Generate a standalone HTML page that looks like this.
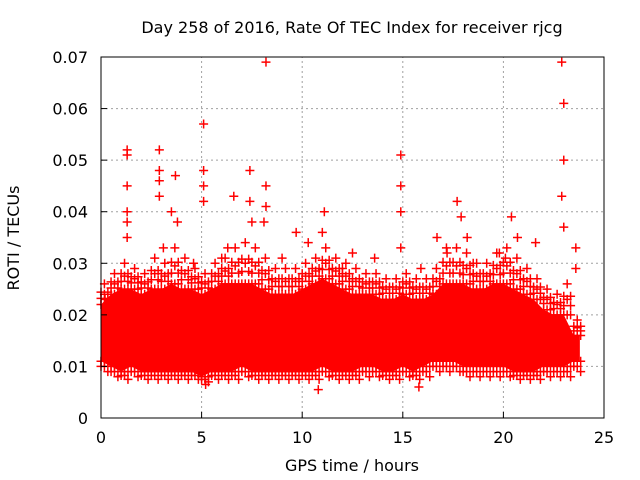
<!DOCTYPE html>
<html><head><meta charset="utf-8"><style>
body{margin:0;background:#fff}
svg{display:block;font-family:"DejaVu Sans","Liberation Sans",sans-serif}
</style></head><body>
<svg id="chart" width="640" height="480" viewBox="0 0 640 480" xmlns="http://www.w3.org/2000/svg">
<rect width="640" height="480" fill="#fff"/>
<text x="352" y="33" font-size="16" text-anchor="middle" fill="#000">Day 258 of 2016, Rate Of TEC Index for receiver rjcg</text>
<g id="grid"></g>
<g id="marks"></g>
<g id="axes"></g>
<text x="352" y="471" font-size="16" text-anchor="middle">GPS time / hours</text>
<text transform="translate(19,238) rotate(-90)" font-size="16" text-anchor="middle">ROTI / TECUs</text>
</svg>
<script>
const xTicks=[0,5,10,15,20,25];
const yTicks=[0,0.01,0.02,0.03,0.04,0.05,0.06,0.07];
const yTickLabels=["0","0.01","0.02","0.03","0.04","0.05","0.06","0.07"];
const binTimes=[0,0.5,1,1.5,2,2.5,3,3.5,4,4.5,5,5.5,6,6.5,7,7.5,8,8.5,9,9.5,10,10.5,11,11.5,12,12.5,13,13.5,14,14.5,15,15.5,16,16.5,17,17.5,18,18.5,19,19.5,20,20.5,21,21.5,22,22.5,23,23.5];
const binLow=[0.011,0.010,0.009,0.010,0.009,0.009,0.009,0.009,0.009,0.009,0.008,0.009,0.009,0.009,0.010,0.009,0.009,0.009,0.009,0.009,0.009,0.009,0.010,0.009,0.009,0.009,0.010,0.010,0.009,0.009,0.010,0.009,0.010,0.011,0.011,0.011,0.010,0.010,0.010,0.010,0.010,0.009,0.009,0.009,0.010,0.010,0.010,0.011];
const binHigh=[0.022,0.024,0.025,0.025,0.024,0.025,0.025,0.026,0.025,0.025,0.024,0.025,0.026,0.026,0.026,0.026,0.025,0.024,0.024,0.024,0.025,0.026,0.027,0.026,0.025,0.024,0.024,0.024,0.023,0.023,0.024,0.023,0.023,0.024,0.026,0.026,0.026,0.025,0.025,0.026,0.026,0.025,0.024,0.023,0.021,0.020,0.020,0.016];
const upperValues=[0.026,0.028,0.030,0.029,0.028,0.031,0.030,0.033,0.031,0.029,0.028,0.030,0.031,0.033,0.034,0.033,0.031,0.029,0.029,0.029,0.030,0.031,0.033,0.031,0.030,0.029,0.028,0.028,0.027,0.027,0.028,0.027,0.027,0.029,0.033,0.033,0.032,0.030,0.030,0.032,0.033,0.031,0.029,0.027,0.025,0.024,0.026,0.019];
const lowerValues=[0.009,0.008,0.0075,0.008,0.0075,0.0075,0.0075,0.0075,0.0075,0.0075,0.007,0.0075,0.0075,0.0075,0.008,0.0075,0.0075,0.0075,0.0075,0.0075,0.0075,0.0075,0.008,0.0075,0.0075,0.0075,0.008,0.008,0.0075,0.0075,0.008,0.0075,0.008,0.009,0.009,0.009,0.008,0.008,0.008,0.008,0.008,0.0075,0.0075,0.0075,0.008,0.008,0.008,0.009];
const spikeTimes=[1.3,1.3,1.3,1.3,1.3,1.3,2.9,2.9,2.9,2.9,3.7,3.5,3.8,4.6,5.1,5.1,5.1,5.1,6.3,6.6,7.4,7.4,7.5,8.2,8.2,8.2,8.1,9.7,10.3,11.1,11,12.5,14.9,14.9,14.9,14.9,16.7,17.2,17.7,17.9,18.2,18.5,20.4,20.7,21.6,22.9,23,23,22.9,23,23.6,23.6,0.2,3.1,6.0,9.0,13.6,19.8,20.1,15.9,12,5.2,10.8,15.8];
const spikeValues=[0.052,0.051,0.045,0.040,0.038,0.035,0.052,0.048,0.046,0.043,0.047,0.040,0.038,0.030,0.057,0.048,0.045,0.042,0.033,0.043,0.048,0.042,0.038,0.069,0.045,0.041,0.038,0.036,0.034,0.040,0.036,0.032,0.051,0.045,0.040,0.033,0.035,0.032,0.042,0.039,0.035,0.030,0.039,0.035,0.034,0.069,0.061,0.050,0.043,0.037,0.033,0.029,0.023,0.033,0.031,0.031,0.031,0.032,0.031,0.029,0.029,0.0065,0.0055,0.006];

const X0=101,X1=604,Y0=418,Y1=57;
const xs=t=>X0+(t/25)*(X1-X0);
const ys=v=>Y0-(v/0.07)*(Y0-Y1);
const NS="http://www.w3.org/2000/svg";
function mk(tag,parent){const e=document.createElementNS(NS,tag);parent.appendChild(e);return e;}
const grid=document.getElementById('grid'),axes=document.getElementById('axes'),marks=document.getElementById('marks');

xTicks.forEach((t,i)=>{
  if(i>0&&i<xTicks.length-1){const l=mk('line',grid);
  
  
  l.setAttribute('x1',xs(t));l.setAttribute('x2',xs(t));l.setAttribute('y1',Y0);l.setAttribute('y2',Y1);
  l.setAttribute('stroke','#a0a0a0');l.setAttribute('stroke-dasharray','2,3');}
  const tk=mk('text',axes);
  
  
  tk.setAttribute('x',xs(t));tk.setAttribute('y',443);tk.setAttribute('font-size','16');tk.setAttribute('text-anchor','middle');tk.textContent=t;
  const tl=mk('line',axes);
  
  
  tl.setAttribute('x1',xs(t));tl.setAttribute('x2',xs(t));tl.setAttribute('y1',Y0);tl.setAttribute('y2',Y0-6);tl.setAttribute('stroke','#000');
});
yTicks.forEach((v,i)=>{
  if(i>0&&i<yTicks.length-1){const l=mk('line',grid);
  
  
  l.setAttribute('x1',X0);l.setAttribute('x2',X1);l.setAttribute('y1',ys(v));l.setAttribute('y2',ys(v));
  l.setAttribute('stroke','#a0a0a0');l.setAttribute('stroke-dasharray','2,3');}
  const tk=mk('text',axes);
  
  
  tk.setAttribute('x',88);tk.setAttribute('y',ys(v)+6);tk.setAttribute('font-size','16');tk.setAttribute('text-anchor','end');tk.textContent=yTickLabels[i];
  const tl=mk('line',axes);
  
  
  tl.setAttribute('x1',X0);tl.setAttribute('x2',X0+6);tl.setAttribute('y1',ys(v));tl.setAttribute('y2',ys(v));tl.setAttribute('stroke','#000');
});
const frame=mk('rect',axes);


frame.setAttribute('x',X0);frame.setAttribute('y',Y1);frame.setAttribute('width',X1-X0);frame.setAttribute('height',Y0-Y1);frame.setAttribute('fill','none');frame.setAttribute('stroke','#000');

let pts=[];
binTimes.forEach((t,i)=>pts.push(xs(t)+','+ys(binHigh[i])));
pts.push(xs(binTimes[binTimes.length-1]+0.3)+','+ys(binHigh[binHigh.length-1]));
pts.push(xs(binTimes[binTimes.length-1]+0.3)+','+ys(binLow[binLow.length-1]));
for(let i=binTimes.length-1;i>=0;i--)pts.push(xs(binTimes[i])+','+ys(binLow[i]));
const band=mk('polygon',marks);


band.setAttribute('points',pts.join(' '));band.setAttribute('fill','#f00');

function plus(t,v,name){
  const p=mk('path',marks);
  
  
  const x=xs(t),y=ys(v);
  p.setAttribute('d','M'+(x-4.5)+','+y+'H'+(x+4.5)+'M'+x+','+(y-4.5)+'V'+(y+4.5));
  p.setAttribute('stroke','#f00');p.setAttribute('stroke-width','1.5');
}
binTimes.forEach((t,i)=>{
  for(const off of [0,0.17,0.34]){
    const tt=t+off;
    const up=binHigh[i]+(upperValues[i]-binHigh[i])*(off===0.17?1:0.6);
    plus(tt,up,'roti-point');
    plus(tt,(up+binHigh[i])/2,'roti-point');
    plus(tt,binHigh[i],'roti-point');
    const lo=binLow[i]+(lowerValues[i]-binLow[i])*(off===0.34?1:0.5);
    plus(tt,lo,'roti-point');
    plus(tt,binLow[i],'roti-point');
  }
});
spikeTimes.forEach((t,i)=>plus(t,spikeValues[i],'roti-spike'));
</script>
</body></html>
